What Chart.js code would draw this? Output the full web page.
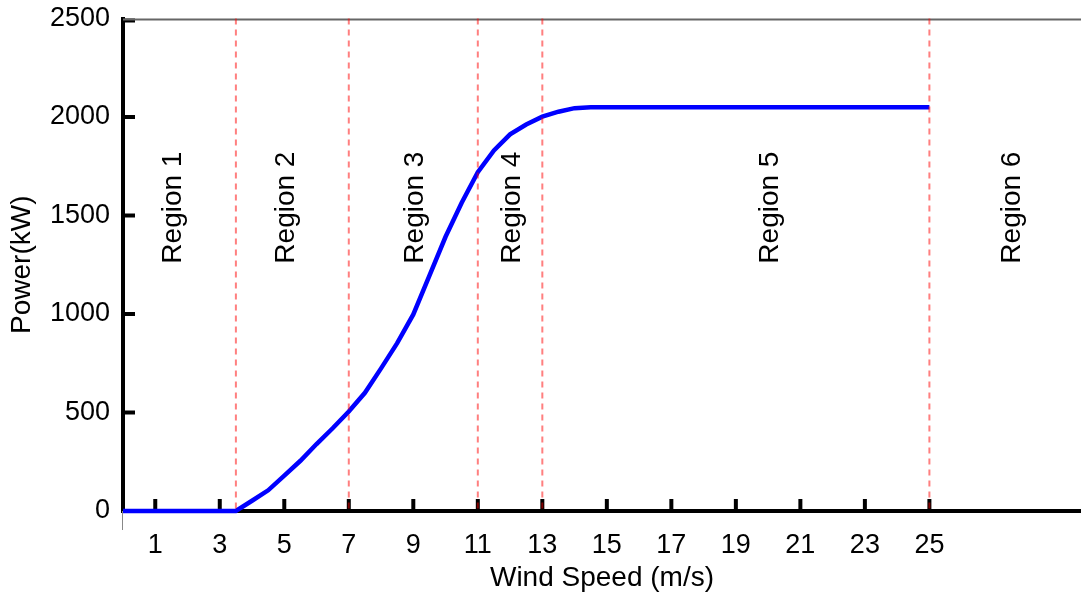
<!DOCTYPE html>
<html>
<head>
<meta charset="utf-8">
<title>Wind turbine power curve</title>
<script src="https://cdn.jsdelivr.net/npm/chart.js@4.4.1/dist/chart.umd.min.js"></script>
<style>
  html, body { margin: 0; padding: 0; background: #ffffff; }
  #wrap { width: 1081px; height: 596px; position: relative; }
</style>
</head>
<body>
<div id="wrap"><canvas id="powerCurve"></canvas></div>
<script>
// Wind speed samples (m/s)
const windSpeed = [
  0, 0.5, 1, 1.5, 2, 2.5, 3, 3.5, 4, 4.5, 5, 5.5, 6, 6.5, 7, 7.5, 8, 8.5, 9, 9.5,
  10, 10.5, 11, 11.5, 12, 12.5, 13, 13.5, 14, 14.5, 15, 15.5, 16, 16.5, 17, 17.5,
  18, 18.5, 19, 19.5, 20, 20.5, 21, 21.5, 22, 22.5, 23, 23.5, 24, 24.5, 25
];
// Turbine output power (kW)
const power = [
  0, 0, 0, 0, 0, 0, 0, 0, 52, 105, 180, 255, 340, 420, 505, 600, 724, 852, 998, 1195,
  1392, 1565, 1720, 1830, 1912, 1962, 2002, 2027, 2045, 2050, 2050, 2050, 2050, 2050, 2050, 2050,
  2050, 2050, 2050, 2050, 2050, 2050, 2050, 2050, 2050, 2050, 2050, 2050, 2050, 2050, 2050
];
// Operating-region boundaries (m/s)
const regionBounds = [3.5, 7, 11, 13, 25];
// Operating-region labels and the wind speed each label sits at
const regionNames = ['Region 1', 'Region 2', 'Region 3', 'Region 4', 'Region 5', 'Region 6'];
const regionLabelSpeed = [1.5, 5, 9, 12, 20, 27.5];
const regionLabelPower = 1540;
// Axis ticks
const xTickValues = [1, 3, 5, 7, 9, 11, 13, 15, 17, 19, 21, 23, 25];
const yTickValues = [0, 500, 1000, 1500, 2000, 2500];

const FONT = '"Liberation Sans", Arial, sans-serif';

const points = windSpeed.map((v, i) => ({ x: v, y: power[i] }));

// Inward tick marks, region dividers, region names and the top frame line
const decorations = {
  id: 'decorations',
  beforeDatasetsDraw(chart) {
    const { ctx, chartArea, scales } = chart;
    const x = scales.x, y = scales.y;
    ctx.save();
    ctx.strokeStyle = '#000';
    ctx.lineWidth = 4;
    ctx.lineCap = 'butt';
    xTickValues.forEach(v => {
      const px = x.getPixelForValue(v);
      ctx.beginPath();
      ctx.moveTo(px, chartArea.bottom);
      ctx.lineTo(px, chartArea.bottom - 12);
      ctx.stroke();
    });
    yTickValues.forEach(v => {
      if (v === 0) return;
      const py = Math.max(y.getPixelForValue(v), chartArea.top + 2);
      ctx.beginPath();
      ctx.moveTo(chartArea.left, py);
      ctx.lineTo(chartArea.left + 12, py);
      ctx.stroke();
    });
    // top frame line
    ctx.strokeStyle = '#666';
    ctx.lineWidth = 2;
    ctx.beginPath();
    ctx.moveTo(chartArea.left, chartArea.top + 1);
    ctx.lineTo(chartArea.right, chartArea.top + 1);
    ctx.stroke();
    // small stub of the frame below the axis
    ctx.strokeStyle = '#888';
    ctx.lineWidth = 1;
    ctx.beginPath();
    ctx.moveTo(chartArea.left - 0.5, chartArea.bottom);
    ctx.lineTo(chartArea.left - 0.5, chartArea.bottom + 19);
    ctx.stroke();

    // region names, written bottom to top
    ctx.fillStyle = '#000';
    ctx.font = '28px ' + FONT;
    ctx.textAlign = 'center';
    ctx.textBaseline = 'middle';
    const py = y.getPixelForValue(regionLabelPower);
    regionNames.forEach((name, i) => {
      const px = x.getPixelForValue(regionLabelSpeed[i]) + 2;
      ctx.save();
      ctx.translate(px, py);
      ctx.rotate(-Math.PI / 2);
      ctx.fillText(name, 0, 0);
      ctx.restore();
    });
    ctx.restore();
  },
  afterDatasetsDraw(chart) {
    const { ctx, chartArea, scales } = chart;
    ctx.save();
    ctx.strokeStyle = 'rgba(255, 0, 0, 0.5)';
    ctx.lineWidth = 2;
    ctx.setLineDash([6, 5]);
    regionBounds.forEach(v => {
      const px = scales.x.getPixelForValue(v);
      ctx.beginPath();
      ctx.moveTo(px, chartArea.top);
      ctx.lineTo(px, chartArea.bottom);
      ctx.stroke();
    });
    ctx.restore();
  }
};

new Chart(document.getElementById('powerCurve'), {
  type: 'line',
  data: {
    datasets: [{
      label: 'Power',
      data: points,
      borderColor: '#0000ff',
      borderWidth: 4.5,
      pointRadius: 0,
      tension: 0,
      fill: false,
      clip: false
    }]
  },
  options: {
    responsive: true,
    maintainAspectRatio: false,
    animation: false,
    layout: { padding: 0 },
    plugins: { legend: { display: false }, tooltip: { enabled: false } },
    scales: {
      x: {
        type: 'linear',
        min: 0,
        max: 29.7,
        afterBuildTicks(scale) { scale.ticks = xTickValues.map(v => ({ value: v })); },
        afterFit(scale) {
          scale.height = 85;
          scale.paddingLeft = 0;
          scale.paddingRight = 0;
        },
        grid: { display: false, drawTicks: false },
        border: { display: true, color: '#000', width: 4 },
        ticks: {
          color: '#000',
          font: { family: FONT, size: 27 },
          padding: 18,
          maxRotation: 0,
          autoSkip: false
        },
        title: {
          display: true,
          text: 'Wind Speed (m/s)',
          color: '#000',
          font: { family: FONT, size: 28 },
          padding: { top: 0, bottom: 1 }
        }
      },
      y: {
        type: 'linear',
        min: 0,
        max: 2500,
        afterBuildTicks(scale) { scale.ticks = yTickValues.map(v => ({ value: v })); },
        afterFit(scale) {
          scale.width = 123;
          scale.paddingTop = 18.5;
          scale.paddingBottom = 0;
        },
        grid: { display: false, drawTicks: false },
        border: { display: true, color: '#000', width: 4 },
        ticks: {
          color: '#000',
          font: { family: FONT, size: 27 },
          padding: 13,
          callback: v => String(v)
        },
        title: {
          display: true,
          text: 'Power(kW)',
          color: '#000',
          font: { family: FONT, size: 28 },
          padding: { top: 5, bottom: 0 }
        }
      }
    }
  },
  plugins: [decorations]
});
</script>
</body>
</html>
